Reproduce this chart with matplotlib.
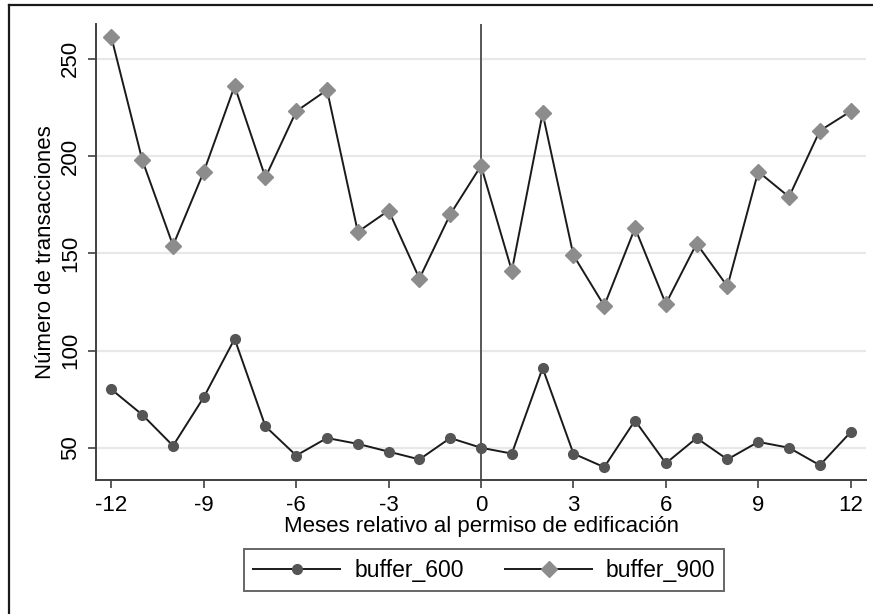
import matplotlib
matplotlib.use("Agg")
import matplotlib.pyplot as plt
from matplotlib.lines import Line2D

meses = list(range(-12, 13))
buffer_600 = [80, 67, 51, 76, 106, 61, 46, 55, 52, 48, 44, 55, 50,
              47, 91, 47, 40, 64, 42, 55, 44, 53, 50, 41, 58]
buffer_900 = [261, 198, 154, 192, 236, 189, 223, 234, 161, 172, 137, 170, 195,
              141, 222, 149, 123, 163, 124, 155, 133, 192, 179, 213, 223]
xticks = [-12, -9, -6, -3, 0, 3, 6, 9, 12]
yticks = [50, 100, 150, 200, 250]

plt.rcParams["font.family"] = ["Liberation Sans", "DejaVu Sans"]

fig = plt.figure(figsize=(8.73, 6.14), dpi=100)
ax = fig.add_axes([0.110, 0.2182, 0.882, 0.743])

for y in yticks:
    ax.axhline(y, color="#e8e8e8", lw=1.6, zorder=0)
ax.axvline(0, color="#4a4a4a", lw=1.3, zorder=1)

ax.plot(meses, buffer_600, color="#1a1a1a", lw=1.4, marker="o", ms=7,
        mfc="#555555", mec="#555555", label="buffer_600", zorder=3)
ax.plot(meses, buffer_900, color="#1a1a1a", lw=1.4, marker="D", ms=8.5,
        mfc="#8c8c8c", mec="#8c8c8c", label="buffer_900", zorder=3)

ax.set_xlim(-12.5, 12.5)
ax.set_ylim(33.4, 268)
ax.set_xticks(xticks)
ax.set_yticks(yticks)
ax.set_xticklabels([str(t) for t in xticks])
ax.tick_params(axis="both", labelsize=16, length=6, width=1.2, color="#404040", pad=5)
ax.tick_params(axis="y", labelrotation=90)
for lbl in ax.get_yticklabels():
    lbl.set_va("center")

for side in ["top", "right"]:
    ax.spines[side].set_visible(False)
for side in ["left", "bottom"]:
    ax.spines[side].set_color("#404040")
    ax.spines[side].set_linewidth(1.4)

ax.set_xlabel("Meses relativo al permiso de edificación", fontsize=16, labelpad=0)
ax.set_ylabel("Número de transacciones", fontsize=16, labelpad=3)

leg = fig.legend(loc="center", bbox_to_anchor=(0.5548, 0.0716), ncol=2, fontsize=16.5,
                 handlelength=3.8, columnspacing=1.8, handletextpad=0.6,
                 frameon=True, fancybox=False, borderpad=0.4)
leg.get_frame().set_edgecolor("#404040")
leg.get_frame().set_linewidth(1.4)

# outer frame (top and left edges visible in the original)
fig.add_artist(Line2D([9 / 873, 1.0], [1 - 5 / 614, 1 - 5 / 614], color="#1a1a1a", lw=1.6))
fig.add_artist(Line2D([9 / 873, 9 / 873], [0.0, 1 - 5 / 614], color="#1a1a1a", lw=1.6))

fig.savefig("out.png", dpi=100)
plt.close(fig)
